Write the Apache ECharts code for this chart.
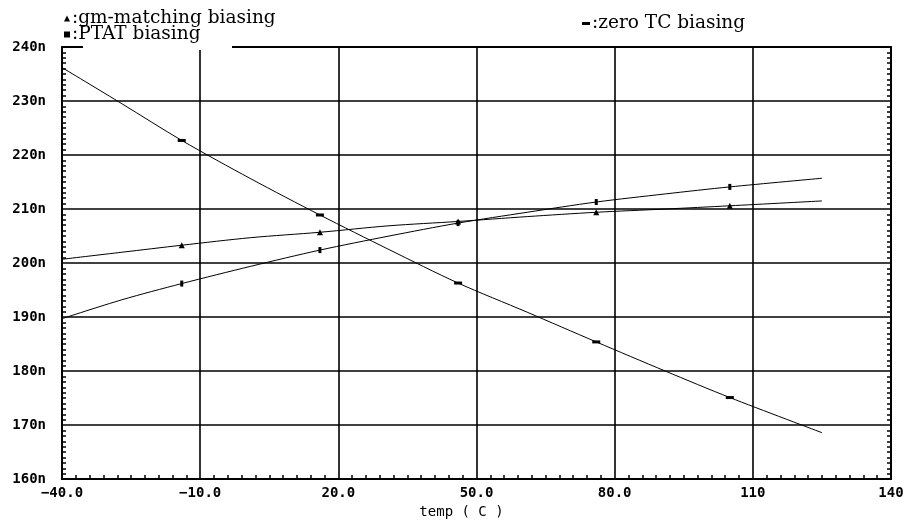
<!DOCTYPE html>
<html>
<head>
<meta charset="utf-8">
<script src="https://cdn.jsdelivr.net/npm/echarts@6/dist/echarts.min.js"></script>
<style>
  html, body { margin: 0; padding: 0; background: #fff; }
  #chart { width: 907px; height: 524px; }
</style>
</head>
<body>
<div id="chart"></div>
<script>
// temperature points (C)
const temps = [-40, -27, -14, 1, 16, 31, 46, 61, 76, 91, 105, 125];
// currents in nA
const gmMatching = [200.7, 202.0, 203.3, 204.7, 205.7, 206.9, 207.7, 208.6, 209.4, 210.0, 210.6, 211.5];
const ptat = [189.7, 193.2, 196.2, 199.4, 202.4, 205.0, 207.4, 209.4, 211.3, 212.8, 214.1, 215.7];
const zeroTC = [236.2, 229.5, 222.7, 215.6, 208.9, 202.5, 196.3, 190.9, 185.4, 180.0, 175.1, 168.6];
// which points carry a marker
const markerIdx = [2, 4, 6, 8, 10];

const yTicks = [160, 170, 180, 190, 200, 210, 220, 230, 240];
const xTicks = [-40, -10, 20, 50, 80, 110, 140];

const monoFont = 'DejaVu Sans Mono';
const serifFont = 'DejaVu Serif';
const black = '#000';

const buildData = (ys, symbol, size) => temps.map((t, i) => {
  const item = { value: [t, ys[i]] };
  if (markerIdx.includes(i)) {
    item.symbol = symbol;
    item.symbolSize = size;
  } else {
    item.symbol = 'none';
  }
  return item;
});

const lineSeries = (name, ys, symbol, size) => ({
  name: name,
  type: 'line',
  smooth: 0.3,
  symbol: 'none',
  showSymbol: true,
  lineStyle: { color: black, width: 1 },
  itemStyle: { color: black, borderWidth: 0 },
  z: 5,
  data: buildData(ys, symbol, size)
});

const dashPath = 'path://M0,0H8V3H0Z';

const legendBase = {
  orient: 'horizontal',
  padding: 0,
  itemWidth: 6,
  itemHeight: 6,
  itemStyle: { color: black, borderWidth: 0 },
  textStyle: { fontFamily: serifFont, fontSize: 18.5, color: black, padding: [0, 0, 0, -3] },
  formatter: name => ':' + name,
  selectedMode: false
};

const chart = echarts.init(document.getElementById('chart'));

const option = {
  backgroundColor: '#fff',
  animation: false,
  legend: [
    Object.assign({}, legendBase, {
      left: 64, top: 9,
      data: [{ name: 'gm-matching biasing', icon: 'triangle' }]
    }),
    Object.assign({}, legendBase, {
      left: 64, top: 25,
      data: [{ name: 'PTAT biasing', icon: 'rect' }]
    }),
    Object.assign({}, legendBase, {
      left: 582, top: 14, itemWidth: 8, itemHeight: 3,
      data: [{ name: 'zero TC biasing', icon: dashPath }]
    })
  ],
  graphic: [
    {
      // gap in the frame behind the PTAT legend
      type: 'rect',
      left: 83, top: 40, z: 2,
      shape: { width: 149, height: 10 },
      style: { fill: '#fff' }
    }
  ],
  grid: { left: 62, right: 16, top: 47, bottom: 39 },
  xAxis: [
    {
      type: 'value',
      min: xTicks[0],
      max: xTicks[xTicks.length - 1],
      interval: 30,
      name: 'temp ( C )',
      nameLocation: 'middle',
      nameGap: 23,
      nameTextStyle: { fontFamily: monoFont, fontSize: 14, color: black, padding: [0, 30, 0, 0] },
      axisLine: { show: true, onZero: false, lineStyle: { color: black, width: 2 } },
      axisTick: { show: false, inside: true },
      minorTick: { show: true, splitNumber: 10, length: 4, lineStyle: { color: black, width: 1.5 } },
      axisLabel: {
        fontFamily: monoFont, fontSize: 14, fontWeight: 'bold', color: black, margin: 7,
        formatter: v => (Math.abs(v) >= 100 ? String(v) : v.toFixed(1)).replace('-', '\u2212')
      },
      splitLine: { show: true, lineStyle: { color: black, width: 1.6 } }
    },
    {
      type: 'value',
      position: 'top',
      min: xTicks[0],
      max: xTicks[xTicks.length - 1],
      interval: 30,
      axisLine: { show: true, onZero: false, lineStyle: { color: black, width: 2 } },
      axisTick: { show: false },
      axisLabel: { show: false },
      splitLine: { show: false }
    }
  ],
  yAxis: [
    {
      type: 'value',
      min: yTicks[0],
      max: yTicks[yTicks.length - 1],
      interval: 10,
      axisLine: { show: true, onZero: false, lineStyle: { color: black, width: 2 } },
      axisTick: { show: false, inside: true },
      minorTick: { show: true, splitNumber: 10, length: 4, lineStyle: { color: black, width: 1.5 } },
      axisLabel: {
        fontFamily: monoFont, fontSize: 14, fontWeight: 'bold', color: black, margin: 16,
        formatter: v => v + 'n'
      },
      splitLine: { show: true, lineStyle: { color: black, width: 1.6 } }
    },
    {
      type: 'value',
      position: 'right',
      min: yTicks[0],
      max: yTicks[yTicks.length - 1],
      interval: 10,
      axisLine: { show: true, onZero: false, lineStyle: { color: black, width: 2 } },
      axisTick: { show: false, inside: true },
      minorTick: { show: true, splitNumber: 10, length: 4, lineStyle: { color: black, width: 1.5 } },
      axisLabel: { show: false },
      splitLine: { show: false }
    }
  ],
  series: [
    lineSeries('gm-matching biasing', gmMatching, 'triangle', 6),
    lineSeries('PTAT biasing', ptat, 'rect', [3, 6]),
    lineSeries('zero TC biasing', zeroTC, dashPath, [8, 3])
  ]
};

chart.setOption(option);
</script>
</body>
</html>
